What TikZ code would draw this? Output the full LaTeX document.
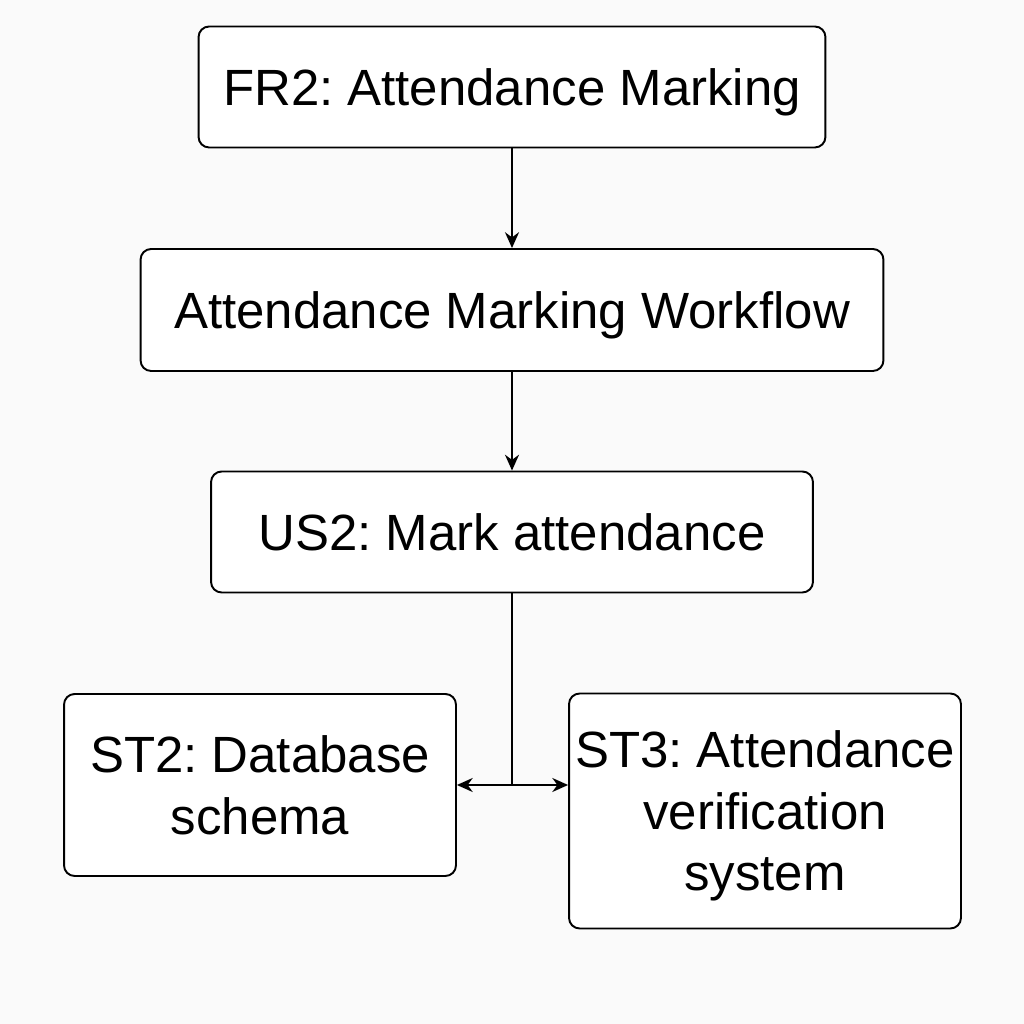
\documentclass[tikz,border=0pt]{standalone}
\usepackage{fontspec}
\setmainfont{Liberation Sans}
\frenchspacing
\definecolor{bgcol}{HTML}{FAFAFA}
\tikzset{
  box/.style={draw=black, line width=1.1pt, rounded corners=6pt, fill=white,
    align=center, inner sep=0pt, text depth=0pt, font=\fontsize{29}{35}\selectfont},
  link/.style={line width=1.1pt, -{Stealth[length=9pt,width=8pt]}}
}
\usetikzlibrary{arrows.meta}
\begin{document}
\begin{tikzpicture}[x=0.02cm,y=0.02cm]
		\fill[bgcol] (0,0) rectangle (1024,1024);
		\useasboundingbox (0,0) rectangle (1024,1024);
		
		\node[box, minimum width=12.54cm, minimum height=2.42cm] (fr2) at (512,937) {FR2: Attendance Marking};
		\node[box, minimum width=14.86cm, minimum height=2.44cm] (flow) at (512,714) {Attendance Marking Workflow};
		\node[box, minimum width=12.04cm, minimum height=2.42cm] (us2) at (512,492) {US2: Mark attendance};
		\node[box, minimum width=7.84cm, minimum height=3.64cm] (st2) at (260,239) {ST2: Database\\schema};
		\node[box, minimum width=7.84cm, minimum height=4.70cm] (st3) at (765,213) {ST3: Attendance\\verification\\system};
		\coordinate (split) at (512,239);
		
		\draw[link] (fr2) -- (flow);
		\draw[link] (flow) -- (us2);
		\draw[line width=1.1pt] (us2) -- (split);
		\draw[link] (split) -- (st2.east);
		\draw[link] (split) -- (split -| st3.west);
		\end{tikzpicture}
\end{document}
